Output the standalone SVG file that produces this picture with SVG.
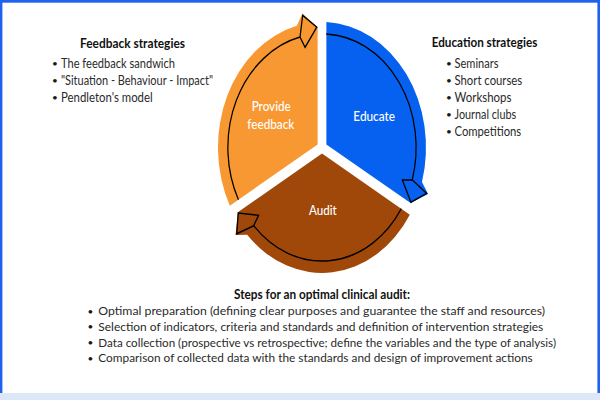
<svg xmlns="http://www.w3.org/2000/svg" width="600" height="400" viewBox="0 0 600 400">
  <style>
    .body { font-family: "Lato", "Liberation Sans", sans-serif; font-size: 13px; font-weight: 400; fill: #2a2a2a; }
    .small { font-family: "Lato", "Liberation Sans", sans-serif; font-size: 12px; font-weight: 400; fill: #2a2a2a; }
    .dot { font-family: "Lato", "Liberation Sans", sans-serif; font-size: 10px; fill: #1a1a1a; text-anchor: middle; }
    .head { font-family: "Lato", "Liberation Sans", sans-serif; font-size: 14px; font-weight: 700; fill: #111; }
    .head2 { font-family: "Lato", "Liberation Sans", sans-serif; font-size: 12.5px; font-weight: 700; fill: #111; }
    .lbl { font-family: "Lato", "Liberation Sans", sans-serif; font-size: 14px; font-weight: 500; fill: #fff; text-anchor: middle; }
    .ring { fill: none; stroke: #000; stroke-width: 1.2; stroke-linejoin: miter; }
  </style>
  <defs>
    <path id="sector" d="M -4.20 -2.43 L -88.63 46.32 A 100 100 0 0 1 -24.19 -97.03 L -18.84 -106.85 L -4.20 -95.91 Z"/>
    <path id="cycle" d="M -80.35 41.65 A 90.5 90.5 0 0 1 -21.13 -88.00 M -21.13 -88.00 L -18.58 -105.37 L -5.02 -95.87 L -16.25 -79.86 Z"/>
  </defs>

  <rect x="0" y="0" width="600" height="400" fill="#fff"/>
  <rect x="0" y="0" width="600" height="2.7" fill="#1e62ef"/>
  <rect x="0" y="0" width="2.4" height="393" fill="#1e62ef"/>
  <rect x="597.4" y="0" width="2.6" height="393" fill="#1e62ef"/>
  <rect x="0" y="393" width="600" height="7" fill="#dce7f7"/>

  <g id="cycle-diagram" transform="translate(322,147.5) scale(1.04,1.255)">
    <g id="node-feedback">
      <use href="#sector" fill="#f79832"/>
    </g>
    <g id="node-educate">
      <use href="#sector" fill="#0761f0" transform="rotate(120)"/>
    </g>
    <g id="node-audit">
      <use href="#sector" fill="#a0480a" transform="rotate(240)"/>
    </g>
    <g id="connectors">
      <use href="#cycle" class="ring" vector-effect="non-scaling-stroke"/>
      <use href="#cycle" class="ring" vector-effect="non-scaling-stroke" transform="rotate(120)"/>
      <use href="#cycle" class="ring" vector-effect="non-scaling-stroke" transform="rotate(240)"/>
    </g>
  </g>

  <g id="labels">
    <text class="lbl" x="271.2" y="111" textLength="39" lengthAdjust="spacingAndGlyphs">Provide</text>
    <text class="lbl" x="270.8" y="129.3" textLength="47" lengthAdjust="spacingAndGlyphs">feedback</text>
    <text class="lbl" x="374.2" y="120.7" textLength="41.7" lengthAdjust="spacingAndGlyphs">Educate</text>
    <text class="lbl" x="322.8" y="215" textLength="27.7" lengthAdjust="spacingAndGlyphs">Audit</text>
  </g>

  <g id="feedback-strategies">
    <text class="head" x="80" y="47.5" textLength="105" lengthAdjust="spacingAndGlyphs">Feedback strategies</text>
    <text class="dot" x="55" y="67.3">•</text>
    <text class="body" x="61" y="68.3" textLength="114" lengthAdjust="spacingAndGlyphs">The feedback sandwich</text>
    <text class="dot" x="55" y="84.3">•</text>
    <text class="body" x="61" y="85.3" textLength="152" lengthAdjust="spacingAndGlyphs">"Situation - Behaviour - Impact"</text>
    <text class="dot" x="55" y="101.3">•</text>
    <text class="body" x="61" y="102.3" textLength="91.7" lengthAdjust="spacingAndGlyphs">Pendleton's model</text>
  </g>

  <g id="education-strategies">
    <text class="head" x="431.7" y="46.7" textLength="105.6" lengthAdjust="spacingAndGlyphs">Education strategies</text>
    <text class="dot" x="449" y="67.3">•</text>
    <text class="body" x="454.5" y="68.3" textLength="44" lengthAdjust="spacingAndGlyphs">Seminars</text>
    <text class="dot" x="449" y="84.3">•</text>
    <text class="body" x="454.5" y="85.3" textLength="67.7" lengthAdjust="spacingAndGlyphs">Short courses</text>
    <text class="dot" x="449" y="101.3">•</text>
    <text class="body" x="454.5" y="102.3" textLength="57" lengthAdjust="spacingAndGlyphs">Workshops</text>
    <text class="dot" x="449" y="118.3">•</text>
    <text class="body" x="454.5" y="119.3" textLength="61.7" lengthAdjust="spacingAndGlyphs">Journal clubs</text>
    <text class="dot" x="449" y="135.3">•</text>
    <text class="body" x="454.5" y="136.3" textLength="66.7" lengthAdjust="spacingAndGlyphs">Competitions</text>
  </g>

  <g id="audit-steps">
    <text class="head2" x="234" y="298.5" textLength="176" lengthAdjust="spacingAndGlyphs">Steps for an optimal clinical audit:</text>
    <text class="dot" x="90.5" y="314.5">•</text>
    <text class="small" x="98.3" y="315.3" textLength="446.7" lengthAdjust="spacingAndGlyphs">Optimal preparation (defining clear purposes and guarantee the staff and resources)</text>
    <text class="dot" x="90.5" y="330.2">•</text>
    <text class="small" x="98.3" y="331" textLength="445" lengthAdjust="spacingAndGlyphs">Selection of indicators, criteria and standards and definition of intervention strategies</text>
    <text class="dot" x="90.5" y="345.9">•</text>
    <text class="small" x="98.3" y="346.7" textLength="457.7" lengthAdjust="spacingAndGlyphs">Data collection (prospective vs retrospective; define the variables and the type of analysis)</text>
    <text class="dot" x="90.5" y="361.5">•</text>
    <text class="small" x="98.3" y="362.3" textLength="434.4" lengthAdjust="spacingAndGlyphs">Comparison of collected data with the standards and design of improvement actions</text>
  </g>
</svg>
